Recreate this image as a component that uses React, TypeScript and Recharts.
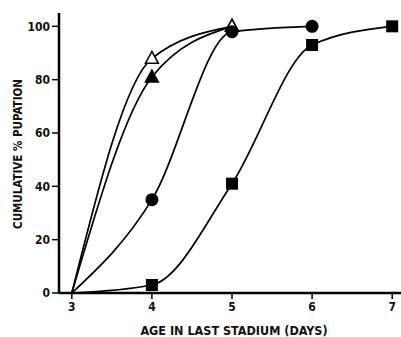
import React from "react";
import { LineChart, Line, XAxis, YAxis, Label } from "recharts";

const days = [3, 4, 5, 6, 7];
const openTriangle = [0, 88, 100, null, null];
const filledTriangle = [0, 81, 100, null, null];
const circle = [0, 35, 98, 100, null];
const square = [0, 3, 41, 93, 100];
const xTicks = [3, 4, 5, 6, 7];
const yTicks = [0, 20, 40, 60, 80, 100];

const data = days.map((d, i) => ({
  day: d,
  openTri: openTriangle[i],
  fillTri: filledTriangle[i],
  circle: circle[i],
  square: square[i],
}));

const FONT = '"DejaVu Sans Condensed", "Liberation Sans Narrow", sans-serif';

// no marker at the common origin (3 days, 0 %)
const makeDot = (kind: string) => (props: any) => {
  const { cx, cy, payload, index } = props;
  const key = kind + index;
  if (payload.day === 3 || cx == null || cy == null) return <g key={key} />;
  if (kind === "openTri" || kind === "fillTri") {
    const pts = `${cx},${cy - 7} ${cx - 6.5},${cy + 5} ${cx + 6.5},${cy + 5}`;
    return (
      <polygon
        key={key}
        points={pts}
        fill={kind === "openTri" ? "#fff" : "#000"}
        stroke="#000"
        strokeWidth={1.5}
      />
    );
  }
  if (kind === "circle") return <circle key={key} cx={cx} cy={cy} r={6.5} fill="#000" />;
  return <rect key={key} x={cx - 6} y={cy - 6} width={12} height={12} fill="#000" />;
};

const tickStyle = { fontFamily: FONT, fontWeight: 700, fontSize: 12, fill: "#111" };

export default function App() {
  return (
    <div style={{ position: "absolute", left: 0, top: 0, background: "#fff" }}>
      <LineChart
        width={401}
        height={337}
        data={data}
        margin={{ top: 13, right: 0, left: 0, bottom: 0 }}
      >
        <XAxis
          xAxisId="top"
          orientation="top"
          dataKey="day"
          type="number"
          domain={[2.84, 7.11]}
          height={0}
          tick={false}
          tickLine={false}
          axisLine={{ stroke: "#000", strokeWidth: 2.5 }}
        />
        <XAxis
          dataKey="day"
          type="number"
          domain={[2.84, 7.11]}
          ticks={xTicks}
          height={44}
          tickSize={6}
          tickMargin={3}
          tick={tickStyle}
          tickLine={{ stroke: "#000", strokeWidth: 1.5 }}
          axisLine={{ stroke: "#000", strokeWidth: 2.5 }}
        >
          <Label
            content={() => (
              <text
                x={234}
                y={335}
                textAnchor="middle"
                style={{ fontFamily: FONT, fontWeight: 700, fontSize: 12.5 }}
                fill="#111"
              >
                AGE IN LAST STADIUM (DAYS)
              </text>
            )}
          />
        </XAxis>
        <YAxis
          type="number"
          domain={[0, 105]}
          ticks={yTicks}
          width={59}
          tickSize={7}
          tickMargin={2}
          tick={tickStyle}
          tickLine={{ stroke: "#000", strokeWidth: 1.5 }}
          axisLine={{ stroke: "#000", strokeWidth: 2.5 }}
        >
          <Label
            content={() => (
              <text
                x={22}
                y={154}
                transform="rotate(-90, 22, 154)"
                textAnchor="middle"
                style={{ fontFamily: FONT, fontWeight: 700, fontSize: 11.5 }}
                fill="#111"
              >
                CUMULATIVE % PUPATION
              </text>
            )}
          />
        </YAxis>
        <Line
          dataKey="fillTri"
          type="monotone"
          stroke="#000"
          strokeWidth={1.7}
          dot={makeDot("fillTri")}
          isAnimationActive={false}
        />
        <Line
          dataKey="openTri"
          type="monotone"
          stroke="#000"
          strokeWidth={1.7}
          dot={makeDot("openTri")}
          isAnimationActive={false}
        />
        <Line
          dataKey="circle"
          type="monotone"
          stroke="#000"
          strokeWidth={1.7}
          dot={makeDot("circle")}
          isAnimationActive={false}
        />
        <Line
          dataKey="square"
          type="monotone"
          stroke="#000"
          strokeWidth={1.7}
          dot={makeDot("square")}
          isAnimationActive={false}
        />
      </LineChart>
    </div>
  );
}
